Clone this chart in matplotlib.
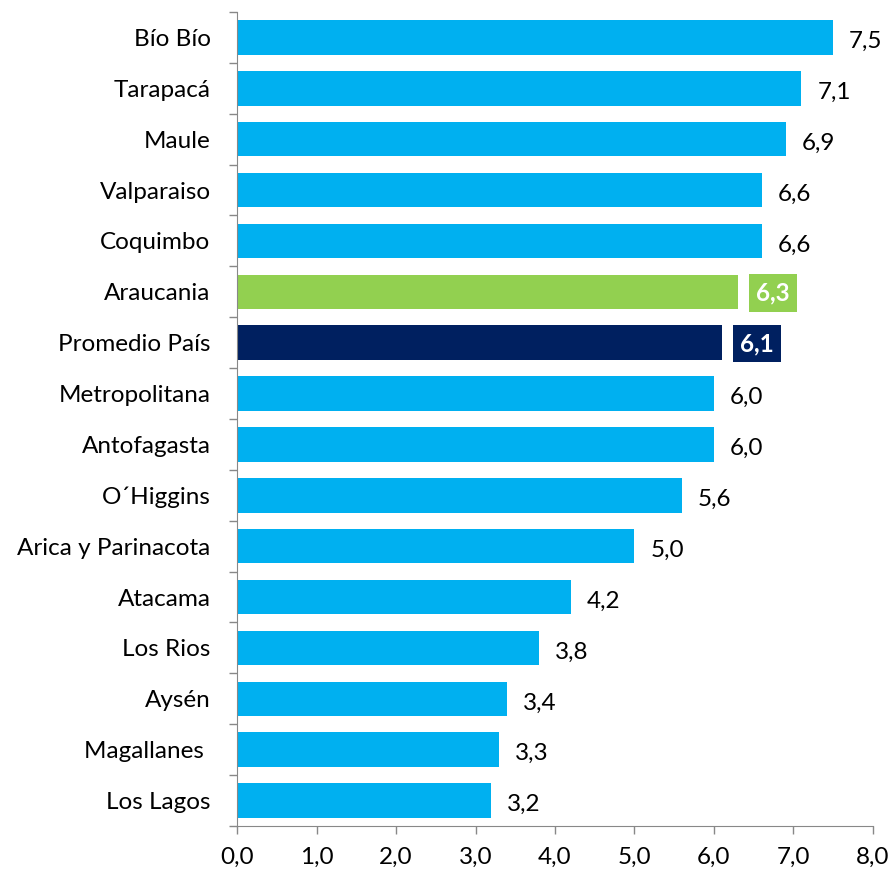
import matplotlib
matplotlib.use('Agg')
from matplotlib import pyplot as plt
import numpy as np

regiones = ['Bío Bío', 'Tarapacá', 'Maule', 'Valparaiso', 'Coquimbo', 'Araucania',
            'Promedio País', 'Metropolitana', 'Antofagasta', 'O´Higgins',
            'Arica y Parinacota', 'Atacama', 'Los Rios', 'Aysén', 'Magallanes ', 'Los Lagos']
valores = [7.5, 7.1, 6.9, 6.6, 6.6, 6.3, 6.1, 6.0, 6.0, 5.6, 5.0, 4.2, 3.8, 3.4, 3.3, 3.2]
x_ticks = [0, 1, 2, 3, 4, 5, 6, 7, 8]

azul = '#00B0F0'
verde = '#92D050'
marino = '#002060'
colores = [azul] * len(regiones)
colores[regiones.index('Araucania')] = verde
colores[regiones.index('Promedio País')] = marino

plt.rcParams['font.family'] = ['Lato', 'DejaVu Sans']

fig = plt.figure(figsize=(8.93, 8.75), dpi=100)
ax = fig.add_axes([0.2654, 0.056, 0.7122, 0.9303])

y = np.arange(len(regiones))
ax.barh(y, valores, height=0.68, color=colores)
ax.set_ylim(len(regiones) - 0.5, -0.5)
ax.set_xlim(0, 8)

ax.set_yticks(y)
ax.set_yticklabels(regiones, fontsize=17.5)
ax.set_yticks(np.arange(len(regiones) + 1) - 0.5, minor=True)
ax.tick_params(axis='y', which='major', length=0, pad=19)
ax.tick_params(axis='y', which='minor', length=6, color='#888888', width=1)

ax.set_xticks(x_ticks)
ax.xaxis.set_major_formatter(plt.FuncFormatter(lambda v, p: ('%.1f' % v).replace('.', ',')))
ax.tick_params(axis='x', labelsize=17.5, length=6, color='#888888', width=1, pad=9)

for s in ['top', 'right']:
    ax.spines[s].set_visible(False)
ax.spines['left'].set_color('#888888')
ax.spines['bottom'].set_color('#888888')

for i, v in enumerate(valores):
    txt = ('%.1f' % v).replace('.', ',')
    if colores[i] == azul:
        ax.text(v + 0.2, i + 0.08, txt, va='center', ha='left', fontsize=17.5, color='black')
    else:
        ax.text(v + 0.23, i + 0.02, txt, va='center', ha='left', fontsize=17.5,
                color='white', fontweight='bold',
                bbox=dict(boxstyle='square,pad=0.3', facecolor=colores[i], edgecolor='none'))

fig.savefig('out.png', dpi=100)
